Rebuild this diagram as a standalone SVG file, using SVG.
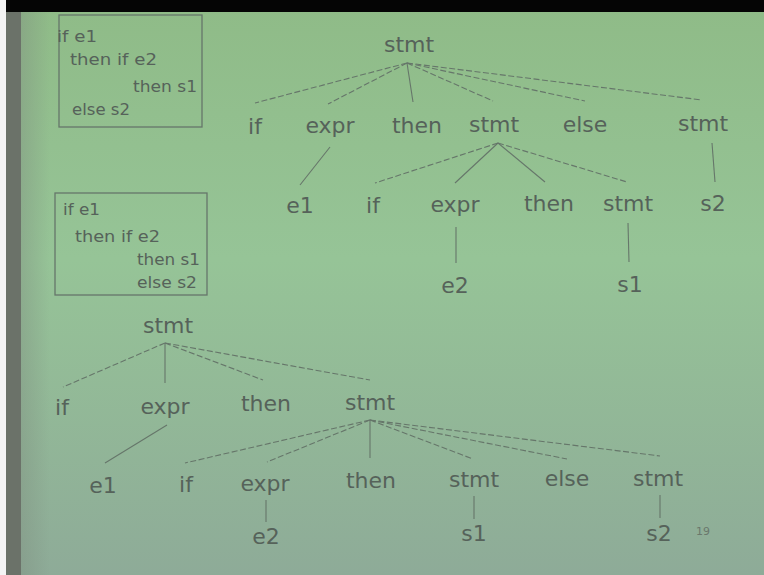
<svg xmlns="http://www.w3.org/2000/svg" width="764" height="575" viewBox="0 0 764 575">
  <defs>
    <linearGradient id="bg" x1="0" y1="0" x2="0" y2="1">
      <stop offset="0" stop-color="#8fbb87"/>
      <stop offset="0.45" stop-color="#96c497"/>
      <stop offset="1" stop-color="#8eab98"/>
    </linearGradient>
    <linearGradient id="leftShade" x1="0" y1="0" x2="1" y2="0">
      <stop offset="0" stop-color="#7f8f80" stop-opacity="0.45"/>
      <stop offset="1" stop-color="#7f8f80" stop-opacity="0"/>
    </linearGradient>
    <style>
      .t { font-family: "DejaVu Sans", "Liberation Sans", sans-serif; font-size: 22px; fill: #56625a; text-anchor: middle; }
      .s { font-family: "DejaVu Sans", "Liberation Sans", sans-serif; font-size: 15px; fill: #56625a; }
      .box { fill: none; stroke: #66766a; stroke-width: 1.3; }
      .e { stroke: #66766a; stroke-width: 1.1; fill: none; }
      .d { stroke-dasharray: 6 2.5; }
    </style>
  </defs>

  <!-- screen / backdrop -->
  <rect x="0" y="0" width="764" height="575" fill="url(#bg)"/>
  <rect x="20" y="0" width="30" height="575" fill="url(#leftShade)"/>
  <rect x="6" y="0" width="15" height="575" fill="#6b7269"/>
  <rect x="0" y="0" width="6" height="575" fill="#f4f4f4"/>
  <rect x="6" y="0" width="758" height="12" fill="#050505"/>

  <!-- code boxes -->
  <g id="code-a">
    <rect class="box" x="59" y="15" width="143" height="112"/>
    <text class="s" x="57" y="42" textLength="40" lengthAdjust="spacingAndGlyphs">if e1</text>
    <text class="s" x="70" y="65" textLength="87" lengthAdjust="spacingAndGlyphs">then if e2</text>
    <text class="s" x="133" y="92" textLength="64" lengthAdjust="spacingAndGlyphs">then s1</text>
    <text class="s" x="72" y="115" textLength="58" lengthAdjust="spacingAndGlyphs">else s2</text>
  </g>
  <g id="code-b">
    <rect class="box" x="55" y="193" width="152" height="102"/>
    <text class="s" x="63" y="215" textLength="37" lengthAdjust="spacingAndGlyphs">if e1</text>
    <text class="s" x="75" y="242" textLength="85" lengthAdjust="spacingAndGlyphs">then if e2</text>
    <text class="s" x="137" y="265" textLength="63" lengthAdjust="spacingAndGlyphs">then s1</text>
    <text class="s" x="137" y="288" textLength="60" lengthAdjust="spacingAndGlyphs">else s2</text>
  </g>

  <!-- tree edges -->
  <g id="connectors">
    <!-- upper tree -->
    <line class="e d" x1="407" y1="63" x2="255" y2="103"/>
    <line class="e d" x1="407" y1="63" x2="328" y2="104"/>
    <line class="e" x1="407" y1="63" x2="413" y2="102"/>
    <line class="e d" x1="407" y1="63" x2="493" y2="101"/>
    <line class="e d" x1="407" y1="63" x2="585" y2="101"/>
    <line class="e d" x1="407" y1="63" x2="702" y2="100"/>
    <line class="e" x1="330" y1="147" x2="300" y2="185"/>
    <line class="e d" x1="498" y1="143" x2="375" y2="183"/>
    <line class="e" x1="498" y1="143" x2="455" y2="183"/>
    <line class="e" x1="498" y1="143" x2="545" y2="182"/>
    <line class="e d" x1="498" y1="143" x2="627" y2="182"/>
    <line class="e" x1="712" y1="143" x2="715" y2="182"/>
    <line class="e" x1="456" y1="227" x2="456" y2="263"/>
    <line class="e" x1="628" y1="223" x2="629" y2="262"/>
    <!-- lower tree -->
    <line class="e d" x1="165" y1="343" x2="63" y2="387"/>
    <line class="e" x1="165" y1="343" x2="165" y2="383"/>
    <line class="e d" x1="165" y1="343" x2="263" y2="380"/>
    <line class="e d" x1="165" y1="343" x2="370" y2="380"/>
    <line class="e" x1="167" y1="425" x2="105" y2="463"/>
    <line class="e d" x1="370" y1="420" x2="185" y2="463"/>
    <line class="e d" x1="370" y1="420" x2="267" y2="462"/>
    <line class="e" x1="370" y1="420" x2="370" y2="458"/>
    <line class="e d" x1="370" y1="420" x2="473" y2="459"/>
    <line class="e d" x1="370" y1="420" x2="567" y2="459"/>
    <line class="e d" x1="370" y1="420" x2="660" y2="456"/>
    <line class="e" x1="266" y1="500" x2="266" y2="522"/>
    <line class="e" x1="474" y1="496" x2="474" y2="519"/>
    <line class="e" x1="660" y1="495" x2="660" y2="518"/>
  </g>

  <!-- upper tree nodes -->
  <g id="u-root"><text class="t" x="409" y="52">stmt</text></g>
  <g id="u-if"><text class="t" x="255" y="134">if</text></g>
  <g id="u-expr"><text class="t" x="330" y="133">expr</text></g>
  <g id="u-then"><text class="t" x="417" y="133">then</text></g>
  <g id="u-stmt"><text class="t" x="494" y="132">stmt</text></g>
  <g id="u-else"><text class="t" x="585" y="132">else</text></g>
  <g id="u-stmt2"><text class="t" x="703" y="131">stmt</text></g>
  <g id="u-e1"><text class="t" x="300" y="213">e1</text></g>
  <g id="u-if2"><text class="t" x="373" y="213">if</text></g>
  <g id="u-expr2"><text class="t" x="455" y="212">expr</text></g>
  <g id="u-then2"><text class="t" x="549" y="211">then</text></g>
  <g id="u-stmt3"><text class="t" x="628" y="211">stmt</text></g>
  <g id="u-s2"><text class="t" x="713" y="211">s2</text></g>
  <g id="u-e2"><text class="t" x="455" y="293">e2</text></g>
  <g id="u-s1"><text class="t" x="630" y="292">s1</text></g>

  <!-- lower tree nodes -->
  <g id="l-root"><text class="t" x="168" y="333">stmt</text></g>
  <g id="l-if"><text class="t" x="62" y="415">if</text></g>
  <g id="l-expr"><text class="t" x="165" y="414">expr</text></g>
  <g id="l-then"><text class="t" x="266" y="411">then</text></g>
  <g id="l-stmt"><text class="t" x="370" y="410">stmt</text></g>
  <g id="l-e1"><text class="t" x="103" y="493">e1</text></g>
  <g id="l-if2"><text class="t" x="186" y="492">if</text></g>
  <g id="l-expr2"><text class="t" x="265" y="491">expr</text></g>
  <g id="l-then2"><text class="t" x="371" y="488">then</text></g>
  <g id="l-stmt2"><text class="t" x="474" y="487">stmt</text></g>
  <g id="l-else"><text class="t" x="567" y="486">else</text></g>
  <g id="l-stmt3"><text class="t" x="658" y="486">stmt</text></g>
  <g id="l-e2"><text class="t" x="266" y="544">e2</text></g>
  <g id="l-s1"><text class="t" x="474" y="541">s1</text></g>
  <g id="l-s2"><text class="t" x="659" y="541">s2</text></g>

  <!-- slide number -->
  <text x="703" y="535" style="font-family: 'DejaVu Sans', sans-serif; font-size: 11px; fill: #6a786c; text-anchor: middle;">19</text>
</svg>
